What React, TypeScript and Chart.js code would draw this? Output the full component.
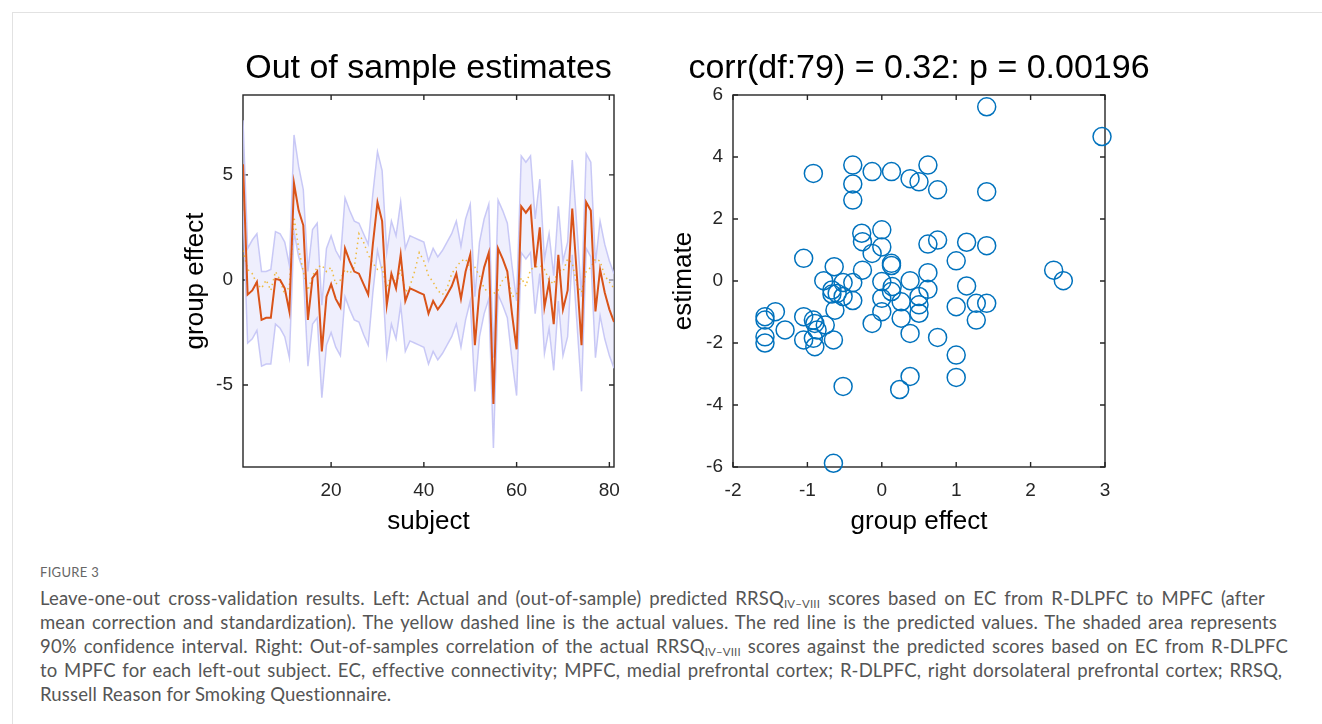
import React, { useEffect, useRef } from "react";
import { Chart, registerables } from "chart.js";

Chart.register(...registerables);

const FONT = "'Liberation Sans', Arial, Helvetica, sans-serif";

// ---------- Left panel data ----------
const subjects = Array.from({ length: 81 }, (_, i) => i + 1);

const predicted = [
  5.5, -0.7, -0.5, -0.1, -1.9, -1.8, -1.8, 0.05, 0.0, -0.4,
  -1.5, 4.6, 3.3, 2.6, -1.9, 0.1, 0.4, -3.4, -0.8, -0.2,
  -0.9, -1.3, 1.5, 0.9, 0.4, 0.3, -0.2, -0.7, 1.7, 3.7,
  2.8, -1.2, 0.3, -0.4, 1.2, -1.0, -0.4, -0.5, -0.6, -0.7,
  -1.6, -1.0, -1.4, -1.1, -0.7, -0.3, 0.3, -0.9, 0.4, 1.2,
  -3.1, -0.5, 0.6, 1.3, -5.9, 1.5, 1.0, 0.4, -1.6, -3.3,
  3.5, 3.2, 3.5, 0.6, 2.5, -1.3, -0.1, -2.1, 1.2, -1.4,
  -0.5, 3.4, 0.2, -3.1, 3.7, 3.3, -1.5, 0.5, -0.6, -1.4, -2.0,
];

const actual = [
  1.4, 0.5, 0.3, -0.2, -0.4, 0.0, -0.5, 0.4, 0.0, -0.7,
  -0.3, 3.0, 1.5, 0.4, -0.5, 0.2, 0.6, 0.7, 0.4, 0.6,
  -0.2, 0.0, 0.5, 0.3, 0.6, 2.2, 1.8, 1.2, 0.8, 0.5,
  0.6, -0.4, 0.3, -0.2, 0.5, -0.6, -0.3, 0.4, 1.3, 0.9,
  0.2, -0.1, -0.5, -0.7, -0.4, 0.3, 0.6, 0.9, 1.0, 0.5,
  0.6, 0.2, -0.4, -0.6, -0.65, -0.5, 0.0, 0.2, -0.8, -0.7,
  0.1, -0.3, 0.5, 0.6, 0.7, 0.5, 0.0, -0.2, 0.5, 0.4,
  1.0, 0.8, -0.2, -0.6, 0.4, 0.6, 1.0, 0.9, 0.2, -0.1, -0.4,
];

const upperCI = [
  7.6, 1.5, 1.9, 2.2, 0.4, 0.4, 0.5, 2.3, 2.2, 1.8,
  0.7, 6.9, 5.4, 4.3, 0.4, 2.4, 2.7, -1.2, 1.5, 2.1,
  1.4, 1.0, 3.9, 3.3, 2.8, 2.7, 2.2, 1.7, 4.1, 6.1,
  5.2, 1.3, 2.8, 2.1, 3.7, 1.5, 2.1, 2.0, 1.9, 1.8,
  0.9, 1.5, 1.1, 1.4, 1.8, 2.2, 2.8, 1.6, 2.9, 3.6,
  -0.8, 1.8, 2.9, 3.6, -3.7, 3.8, 3.3, 2.7, 0.7, -1.0,
  5.9, 5.6, 5.9, 2.9, 4.8, 1.0, 2.2, 0.2, 3.5, 0.9,
  1.8, 5.7, 2.5, -0.8, 6.0, 5.6, 0.8, 2.8, 1.7, 0.9, 0.3,
];

const lowerCI = [
  3.3, -3.0, -2.8, -2.4, -4.1, -4.0, -4.0, -2.1, -2.3, -2.7,
  -3.7, 2.3, 1.1, 0.4, -4.1, -2.1, -1.8, -5.6, -3.1, -2.5,
  -3.2, -3.6, -0.8, -1.4, -1.9, -2.0, -2.6, -3.1, -0.6, 1.4,
  0.4, -3.6, -2.1, -2.8, -1.2, -3.4, -2.9, -3.0, -3.1, -3.2,
  -4.0, -3.4, -3.8, -3.5, -3.1, -2.7, -2.1, -3.2, -1.9, -1.0,
  -5.3, -2.7, -1.6, -0.9, -8.0, -0.7, -1.2, -1.8, -3.8, -5.5,
  1.3, 1.0, 1.3, -1.6, 0.3, -3.5, -2.3, -4.3, -1.0, -3.6,
  -2.7, 1.2, -2.0, -5.3, 1.5, 1.1, -3.7, -1.7, -2.8, -3.6, -4.2,
];

const leftXTicks = [20, 40, 60, 80];
const leftYTicks = [-5, 0, 5];

// ---------- Right panel data ----------
const scatterActual = [
  -0.92, -0.39, -0.39, -0.39, -0.13, 0.13, 0.38, -1.05, -0.27, -0.26,
  0.0, 0.0, -0.13, -0.26, 0.13, 0.13, -0.64, -0.78, -0.52, -0.39,
  -0.67, -0.67, -0.6, -0.52, -0.39, -0.63, 0.0, 0.38, 0.0, 0.13,
  0.14, 0.26, 0.0, -0.13, 0.26, 0.38, -1.57, -1.57, -1.43, -1.57,
  -1.57, -1.3, -1.05, -1.05, -0.92, -0.9, -0.87, -0.92, -0.9, -0.76,
  -0.65, -0.52, 0.24, 0.38, -0.65, 1.41, 2.96, 0.62, 0.5, 0.75,
  1.41, 0.62, 0.75, 1.14, 1.41, 1.0, 0.62, 0.62, 0.5, 0.5,
  0.5, 1.14, 1.0, 1.27, 1.41, 1.27, 0.75, 1.0, 1.0, 2.31, 2.44,
];

const scatterEstimate = [
  3.47, 3.74, 3.13, 2.61, 3.53, 3.53, 3.3, 0.73, 1.54, 1.27,
  1.65, 1.1, 0.89, 0.35, 0.57, 0.5, 0.46, 0.01, -0.05, -0.05,
  -0.29, -0.42, -0.4, -0.5, -0.63, -0.94, -0.02, 0.01, -0.56, -0.34,
  -0.18, -0.67, -0.99, -1.37, -1.2, -1.69, -1.15, -1.26, -0.99, -1.8,
  -2.0, -1.58, -1.15, -1.9, -1.26, -1.37, -1.58, -1.85, -2.12, -1.42,
  -1.9, -3.4, -3.5, -3.08, -5.88, 5.62, 4.66, 3.74, 3.2, 2.94,
  2.88, 1.19, 1.32, 1.25, 1.14, 0.65, 0.27, -0.27, -0.5, -0.77,
  -1.04, -0.16, -0.83, -0.72, -0.72, -1.26, -1.82, -2.39, -3.11, 0.35, 0.01,
];

const rightXTicks = [-2, -1, 0, 1, 2, 3];
const rightYTicks = [-6, -4, -2, 0, 2, 4, 6];

const leftTitle = "Out of sample estimates";
const rightTitle = "corr(df:79) = 0.32: p = 0.00196";

// ---------- helpers ----------
const boxPlugin = {
  id: "matlabBox",
  beforeDatasetsDraw(chart: any) {
    const { ctx, chartArea: a, scales } = chart;
    const xs = scales.x;
    const ys = scales.y;
    const tl = 5;
    ctx.save();
    ctx.strokeStyle = "#262626";
    ctx.lineWidth = 1.4;
    ctx.strokeRect(a.left, a.top, a.right - a.left, a.bottom - a.top);
    ctx.beginPath();
    xs.ticks.forEach((t: any) => {
      const px = xs.getPixelForValue(t.value);
      ctx.moveTo(px, a.bottom);
      ctx.lineTo(px, a.bottom - tl);
      ctx.moveTo(px, a.top);
      ctx.lineTo(px, a.top + tl);
    });
    ys.ticks.forEach((t: any) => {
      const py = ys.getPixelForValue(t.value);
      ctx.moveTo(a.left, py);
      ctx.lineTo(a.left + tl, py);
      ctx.moveTo(a.right, py);
      ctx.lineTo(a.right - tl, py);
    });
    ctx.stroke();
    ctx.restore();
  },
};

// Title centred over the plot box, drawn without width squeezing
const panelTitlePlugin = {
  id: "panelTitle",
  afterDraw(chart: any, _args: any, opts: any) {
    const { ctx, chartArea: a } = chart;
    ctx.save();
    ctx.font = `normal 34px ${FONT}`;
    ctx.fillStyle = "#000";
    ctx.textAlign = "center";
    ctx.textBaseline = "middle";
    ctx.fillText(opts.text, (a.left + a.right) / 2, opts.y);
    ctx.restore();
  },
};

function axisOpts(
  ticksArr: number[],
  min: number,
  max: number,
  titleText: string,
  horizontal: boolean,
  titlePad: number
) {
  return {
    type: "linear",
    position: horizontal ? "bottom" : "left",
    min,
    max,
    afterBuildTicks: (s: any) => {
      s.ticks = ticksArr.map((v) => ({ value: v }));
    },
    afterFit: (s: any) => {
      if (horizontal) s.height = 83;
      else s.width = 93;
    },
    grid: { display: false, drawTicks: false },
    border: { display: false },
    ticks: {
      color: "#262626",
      font: { size: 19, family: FONT },
      padding: horizontal ? 12 : 10,
      maxRotation: 0,
      autoSkip: false,
    },
    title: {
      display: true,
      text: titleText,
      color: "#000",
      font: { size: 26, family: FONT },
      padding: horizontal ? { top: 0, bottom: titlePad } : { top: titlePad, bottom: 0 },
    },
  };
}

function LeftChart() {
  const ref = useRef<HTMLCanvasElement | null>(null);
  useEffect(() => {
    if (!ref.current) return;
    const pts = (arr: number[]) => subjects.map((s, i) => ({ x: s, y: arr[i] }));
    const chart = new Chart(ref.current, {
      type: "line",
      data: {
        datasets: [
          {
            label: "predicted",
            data: pts(predicted),
            borderColor: "#D95319",
            borderWidth: 2,
            pointRadius: 0,
            tension: 0,
            fill: false,
          },
          {
            label: "actual",
            data: pts(actual),
            borderColor: "rgba(237,177,32,0.85)",
            borderWidth: 1.5,
            borderDash: [1.5, 3.5],
            pointRadius: 0,
            tension: 0,
            fill: false,
          },
          {
            label: "upper",
            data: pts(upperCI),
            borderColor: "rgba(195,195,245,0.9)",
            borderWidth: 1.5,
            pointRadius: 0,
            tension: 0,
            fill: false,
          },
          {
            label: "lower",
            data: pts(lowerCI),
            borderColor: "rgba(195,195,245,0.9)",
            backgroundColor: "rgba(228,228,252,0.6)",
            borderWidth: 1.5,
            pointRadius: 0,
            tension: 0,
            fill: "-1",
          },
        ],
      },
      options: {
        responsive: false,
        animation: false,
        events: [],
        layout: { padding: { left: 0, right: 26, top: 55, bottom: 0 } },
        scales: {
          x: axisOpts(leftXTicks, 1, 81, "subject", true, 12.7) as any,
          y: axisOpts(leftYTicks, -8.9, 8.8, "group effect", false, 30.4) as any,
        },
        plugins: {
          legend: { display: false },
          tooltip: { enabled: false },
          title: { display: false },
          panelTitle: { text: leftTitle, y: 29 },
        } as any,
      },
      plugins: [boxPlugin, panelTitlePlugin],
    });
    return () => chart.destroy();
  }, []);
  return (
    <canvas
      ref={ref}
      width={490}
      height={510}
      style={{ position: "absolute", left: 150, top: 40, width: 490, height: 510 }}
    />
  );
}

function RightChart() {
  const ref = useRef<HTMLCanvasElement | null>(null);
  useEffect(() => {
    if (!ref.current) return;
    const chart = new Chart(ref.current, {
      type: "scatter",
      data: {
        datasets: [
          {
            label: "estimate",
            data: scatterActual.map((x, i) => ({ x, y: scatterEstimate[i] })),
            borderColor: "#0072BD",
            backgroundColor: "rgba(0,0,0,0)",
            borderWidth: 1.5,
            pointRadius: 9,
            pointStyle: "circle",
            clip: false as any,
          },
        ],
      },
      options: {
        responsive: false,
        animation: false,
        events: [],
        layout: { padding: { left: 0, right: 85, top: 55, bottom: 0 } },
        scales: {
          x: axisOpts(rightXTicks, -2, 3, "group effect", true, 12.7) as any,
          y: axisOpts(rightYTicks, -6, 6, "estimate", false, 28.4) as any,
        },
        plugins: {
          legend: { display: false },
          tooltip: { enabled: false },
          title: { display: false },
          panelTitle: { text: rightTitle, y: 29 },
        } as any,
      },
      plugins: [boxPlugin, panelTitlePlugin],
    });
    return () => chart.destroy();
  }, []);
  return (
    <canvas
      ref={ref}
      width={550}
      height={510}
      style={{ position: "absolute", left: 640, top: 40, width: 550, height: 510 }}
    />
  );
}

const sub = (
  <sub style={{ fontSize: "0.62em", verticalAlign: "-0.25em", lineHeight: 0 }}>IV–VIII</sub>
);

const lineBase: React.CSSProperties = {
  height: 24,
  lineHeight: "24px",
  textAlign: "justify",
  textAlignLast: "justify",
  overflow: "visible",
};

export default function App() {
  return (
    <div
      style={{
        position: "absolute",
        left: 0,
        top: 0,
        width: 1322,
        height: 724,
        overflow: "hidden",
        background: "#fff",
      }}
    >
      <div
        style={{
          position: "absolute",
          left: 12,
          top: 12,
          width: 1310,
          height: 712,
          borderTop: "1px solid #e2e2e2",
          borderLeft: "1px solid #e2e2e2",
          boxSizing: "border-box",
        }}
      />
      <LeftChart />
      <RightChart />
      <div
        style={{
          position: "absolute",
          left: 40,
          top: 563,
          fontFamily: "Lato, 'Open Sans', sans-serif",
          fontSize: 13,
          color: "#666",
          letterSpacing: 0.3,
          lineHeight: "18px",
        }}
      >
        FIGURE 3
      </div>
      <div
        style={{
          position: "absolute",
          left: 40,
          top: 586,
          fontFamily: "Lato, 'Open Sans', sans-serif",
          fontSize: 18.5,
          letterSpacing: 0.15,
          color: "#555",
        }}
      >
        <div style={{ ...lineBase, width: 1225 }}>
          Leave-one-out cross-validation results. Left: Actual and (out-of-sample) predicted RRSQ{sub} scores based on EC
          from R-DLPFC to MPFC (after
        </div>
        <div style={{ ...lineBase, width: 1237 }}>
          mean correction and standardization). The yellow dashed line is the actual values. The red line is the predicted
          values. The shaded area represents
        </div>
        <div style={{ ...lineBase, width: 1248 }}>
          90% confidence interval. Right: Out-of-samples correlation of the actual RRSQ{sub} scores against the predicted
          scores based on EC from R-DLPFC
        </div>
        <div style={{ ...lineBase, width: 1242 }}>
          to MPFC for each left-out subject. EC, effective connectivity; MPFC, medial prefrontal cortex; R-DLPFC, right
          dorsolateral prefrontal cortex; RRSQ,
        </div>
        <div style={{ height: 24, lineHeight: "24px", whiteSpace: "nowrap" }}>
          Russell Reason for Smoking Questionnaire.
        </div>
      </div>
    </div>
  );
}
